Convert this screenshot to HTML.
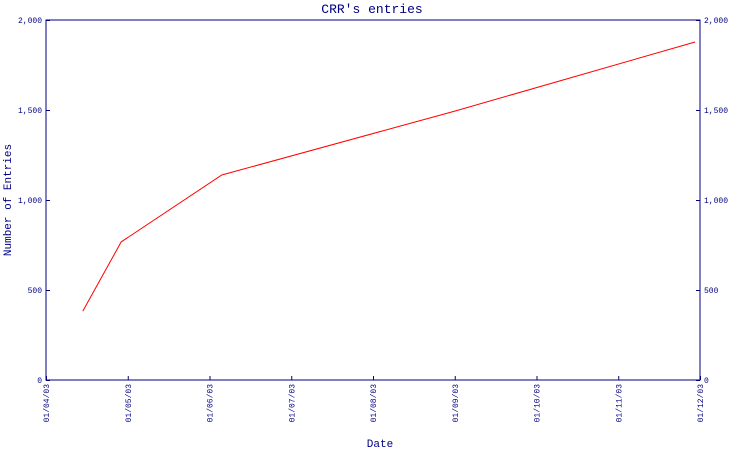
<!DOCTYPE html>
<html><head><meta charset="utf-8"><style>
html,body{margin:0;padding:0;background:#fff;}
svg text{font-family:"Liberation Mono","DejaVu Sans Mono",monospace;fill:#000080;}
</style></head><body>
<svg id="chart" width="750" height="450" xmlns="http://www.w3.org/2000/svg">
<text x="372" y="13" text-anchor="middle" font-size="13">CRR's entries</text>
<text x="380" y="447" text-anchor="middle" font-size="11">Date</text>
<text transform="translate(11,200) rotate(-90)" text-anchor="middle" font-size="11">Number of Entries</text>
<rect x="46" y="20" width="654" height="360" fill="none" stroke="#000080" stroke-width="1"/>
<g id="axes"></g>
<g id="series"></g>
</svg>
<script>
const xLabels=["01/04/03","01/05/03","01/06/03","01/07/03","01/08/03","01/09/03","01/10/03","01/11/03","01/12/03"];
const yTicks=[0,500,1000,1500,2000];
const yTickLabels=["0","500","1,000","1,500","2,000"];
const pointMonths=[0.45,0.92,2.15,5.0,7.94];
const pointValues=[383,767,1139,1494,1878];
const L=46,R=700,T=20,B=380;
function xs(m){return L+(m/(xLabels.length-1))*(R-L);}
function ys(v){return B-(v/2000)*(B-T);}
const NS="http://www.w3.org/2000/svg";
const ax=document.getElementById('axes');
function mk(tag,attrs,parent){const e=document.createElementNS(NS,tag);for(const k in attrs)e.setAttribute(k,attrs[k]);parent.appendChild(e);return e;}
yTicks.forEach((v,i)=>{
  const y=ys(v)+0.5;
  const t1=mk('line',{x1:L,x2:L+4,y1:y,y2:y,stroke:'#000080'},ax);
  
  
  const t2=mk('line',{x1:R-4,x2:R,y1:y,y2:y,stroke:'#000080'},ax);
  
  
  const a=mk('text',{x:L-4,y:ys(v)+3,'text-anchor':'end','font-size':'8'},ax);a.textContent=yTickLabels[i];
  
  
  const b=mk('text',{x:R+4,y:ys(v)+3,'text-anchor':'start','font-size':'8'},ax);b.textContent=yTickLabels[i];
  
  
});
xLabels.forEach((lab,i)=>{
  const x=xs(i)+0.5;
  const t=mk('line',{x1:x,x2:x,y1:B-4,y2:B,stroke:'#000080'},ax);
  
  
  const tx=mk('text',{transform:'translate('+(xs(i)+3)+','+(B+4)+') rotate(-90)','text-anchor':'end','font-size':'8'},ax);
  tx.textContent=lab;
  
  
});
const pts=pointMonths.map((m,i)=>xs(m).toFixed(1)+','+ys(pointValues[i]).toFixed(1)).join(' ');
const pl=mk('polyline',{points:pts,fill:'none',stroke:'#ff0000','stroke-width':'1'},document.getElementById('series'));


</script>
</body></html>
